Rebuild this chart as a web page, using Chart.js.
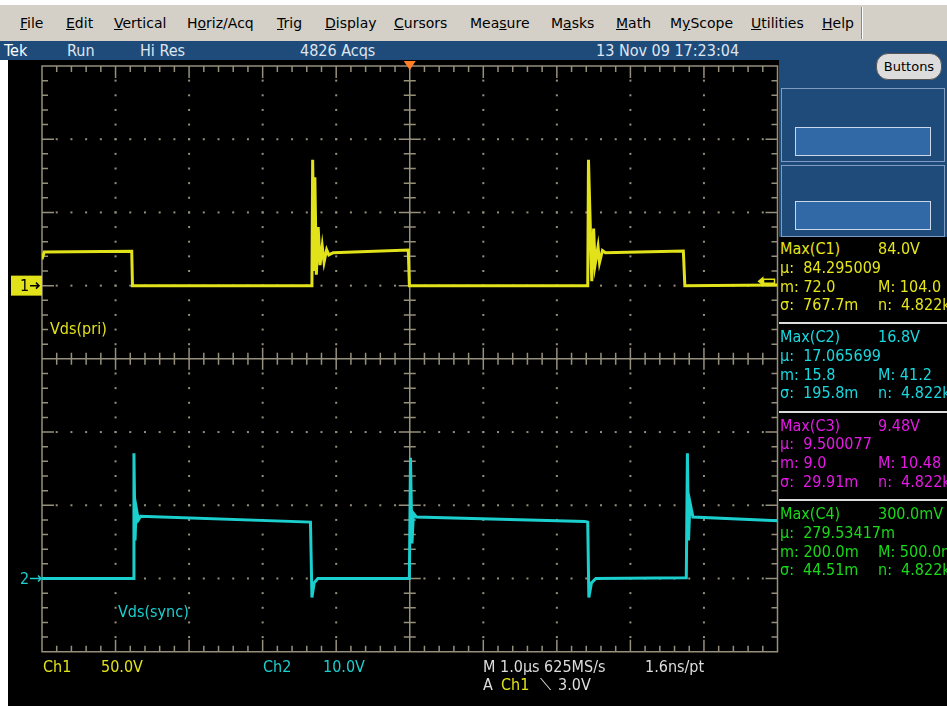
<!DOCTYPE html>
<html>
<head>
<meta charset="utf-8">
<script src="https://cdn.jsdelivr.net/npm/chart.js@4.4.0/dist/chart.umd.min.js"></script>
<style>
  html, body { margin: 0; padding: 0; width: 947px; height: 706px; overflow: hidden; background: #fff; }
  body { position: relative; font-family: "DejaVu Sans", sans-serif; }
  .abs { position: absolute; white-space: nowrap; }
  .scope { font-family: "Liberation Sans Narrow", "DejaVu Sans Condensed", "DejaVu Sans", sans-serif; font-stretch: condensed; font-size: 16px; line-height: 16px; }
  #menu { left: 0; top: 5px; width: 947px; height: 36px; background: #d4d0c8; }
  #menu span { position: absolute; top: 10px; font-size: 14px; color: #000; }
  #menu .sep { position: absolute; left: 861px; top: 2px; width: 1px; height: 32px; background: #888; border-right: 1px solid #fff; }
  #status { left: 0; top: 41px; width: 947px; height: 19px; background: #1f4b7a; color: #dfe6ef; }
  #status span { position: absolute; top: 2px; }
  #black { left: 8px; top: 60px; width: 939px; height: 646px; background: #000; }
  #panel { left: 779px; top: 60px; width: 168px; height: 177px; background: #1f4b7a; }
  #btn { left: 876px; top: 53px; width: 64px; height: 25px; border-radius: 12px; background: #dcdcdc; border: 1px solid #555; font-size: 13px; line-height: 25px; text-align: center; color: #000; }
  .box { left: 781px; width: 162px; border: 1px solid #7f9cc2; background: #1f4b7a; }
  .inner { left: 795px; width: 134px; background: #3169a6; border: 1px solid #c9d8ea; }
  .sepline { left: 779px; width: 168px; height: 2px; background: #dcdcdc; }
  #chartwrap { left: 8px; top: 60px; width: 772px; height: 646px; }
</style>
</head>
<body>
<div id="menu" class="abs">
  <span style="left:20px"><u>F</u>ile</span>
  <span style="left:66px"><u>E</u>dit</span>
  <span style="left:114px"><u>V</u>ertical</span>
  <span style="left:187px">H<u>o</u>riz/Acq</span>
  <span style="left:277px"><u>T</u>rig</span>
  <span style="left:325px"><u>D</u>isplay</span>
  <span style="left:394px"><u>C</u>ursors</span>
  <span style="left:470px">Mea<u>s</u>ure</span>
  <span style="left:551px">M<u>a</u>sks</span>
  <span style="left:616px"><u>M</u>ath</span>
  <span style="left:670px">M<u>y</u>Scope</span>
  <span style="left:751px"><u>U</u>tilities</span>
  <span style="left:822px"><u>H</u>elp</span>
  <div class="sep"></div>
</div>
<div id="status" class="abs scope">
  <span style="left:4px;color:#fff">Tek</span>
  <span style="left:67px">Run</span>
  <span style="left:140px">Hi Res</span>
  <span style="left:300px">4826 Acqs</span>
  <span style="left:596px">13 Nov 09 17:23:04</span>
</div>
<div id="black" class="abs"></div>
<div id="panel" class="abs"></div>
<div class="abs box" style="top:88px;height:72px"></div>
<div class="abs inner" style="top:127px;height:27px"></div>
<div class="abs box" style="top:165px;height:70px"></div>
<div class="abs inner" style="top:201px;height:27px"></div>
<div id="btn" class="abs">Buttons</div>
<div id="chartwrap" class="abs"><canvas id="scope" width="772" height="646"></canvas></div>
<div id="meas"></div>
<div id="readout"></div>
<script>
// time axis in µs (1 µs/div), volts per channel
const ch1Time  = [-5.00, -4.97, -3.78, -3.77, -1.33, -1.32, -1.30, -1.29, -1.27, -1.245, -1.22, -1.19, -1.165, -1.13, -1.10, -1.04, -0.02, -0.005, 2.42, 2.43, 2.475, 2.50, 2.52, 2.56, 2.58, 2.62, 2.66, 3.72, 3.74, 5.00];
const ch1Volts = [18, 23, 23.5, 0, 0, 86, 11, 74, 7.5, 40, 14, 27, 16, 24.5, 21, 22.5, 24.3, 0, 0, 86, 3, 39, 14.3, 26.6, 15.7, 24, 22.5, 23.7, 0, 0.5];
const ch2Time  = [-5.00, -3.76, -3.75, -3.735, -3.72, -3.69, -3.66, -1.35, -1.33, -1.30, -1.25, -0.005, 0.01, 0.03, 0.05, 0.09, 2.38, 2.42, 2.435, 2.47, 2.53, 3.76, 3.775, 3.79, 3.81, 3.85, 5.00];
const ch2Volts = [0, 0, 17.1, 5.2, 9.7, 8.0, 8.5, 7.7, -2.6, -0.6, 0, 0, 16.5, 4.8, 8.9, 8.4, 7.8, 7.7, -2.6, -0.6, 0, 0.1, 17.1, 5.2, 10.4, 8.4, 7.9];

// screen limits: 10 x 1 µs, 8 div at 50 V (ch1) and 10 V (ch2)
const timeRange = [-5, 5];
const ch1Range = [-250, 150];
const ch2Range = [-10, 70];
const trigLevel = 3.0;

const measNames  = ['Max(C1)', 'Max(C2)', 'Max(C3)', 'Max(C4)'];
const measValues = ['84.0V', '16.8V', '9.48V', '300.0mV'];
const measMeans  = ['84.295009', '17.065699', '9.500077', '279.53417m'];
const measMins   = ['72.0', '15.8', '9.0', '200.0m'];
const measMaxs   = ['104.0', '41.2', '10.48', '500.0m'];
const measSigmas = ['767.7m', '195.8m', '29.91m', '44.51m'];
const measCounts = ['4.822k', '4.822k', '4.822k', '4.822k'];
const measColors = ['#e6e619', '#19d9e0', '#e619e6', '#19d919'];

const YELLOW = '#e2e21a';
const CYAN = '#1ccfcf';
const GRID = '#958f7c';
const FONT = '16px "Liberation Sans Narrow", "DejaVu Sans Condensed", "DejaVu Sans", sans-serif';

// measurement panel
let html = '';
measNames.forEach(function(name, i) {
  const top = 241 + i * 88.4;
  const c = measColors[i];
  if (i > 0) html += '<div class="abs sepline" style="top:' + (top - 7) + 'px"></div>';
  html += '<div class="abs scope" style="left:780px;top:' + top + 'px;color:' + c + '">' + name + '</div>';
  html += '<div class="abs scope" style="left:878px;top:' + top + 'px;color:' + c + '">' + measValues[i] + '</div>';
  html += '<div class="abs scope" style="left:780px;top:' + (top + 18.5) + 'px;color:' + c + '">\u03bc:&nbsp; ' + measMeans[i] + '</div>';
  html += '<div class="abs scope" style="left:780px;top:' + (top + 37.5) + 'px;color:' + c + '">m: ' + measMins[i] + '</div>';
  html += '<div class="abs scope" style="left:878px;top:' + (top + 37.5) + 'px;color:' + c + '">M: ' + measMaxs[i] + '</div>';
  html += '<div class="abs scope" style="left:780px;top:' + (top + 56) + 'px;color:' + c + '">\u03c3:&nbsp; ' + measSigmas[i] + '</div>';
  html += '<div class="abs scope" style="left:878px;top:' + (top + 56) + 'px;color:' + c + '">n:&nbsp; ' + measCounts[i] + '</div>';
});
document.getElementById('meas').innerHTML = html;

document.getElementById('readout').innerHTML =
  '<div class="abs scope" style="left:43px;top:659px;color:' + YELLOW + '">Ch1</div>' +
  '<div class="abs scope" style="left:101px;top:659px;color:' + YELLOW + '">50.0V</div>' +
  '<div class="abs scope" style="left:263px;top:659px;color:' + CYAN + '">Ch2</div>' +
  '<div class="abs scope" style="left:323px;top:659px;color:' + CYAN + '">10.0V</div>' +
  '<div class="abs scope" style="left:483px;top:659px;color:#ddd">M 1.0\u00b5s 625MS/s</div>' +
  '<div class="abs scope" style="left:645px;top:659px;color:#ddd">1.6ns/pt</div>' +
  '<div class="abs scope" style="left:483px;top:677px;color:#ddd">A</div>' +
  '<div class="abs scope" style="left:501px;top:677px;color:' + YELLOW + '">Ch1</div>' +
  '<div class="abs scope" style="left:540px;top:677px;color:#ddd">\u27cd</div>' +
  '<div class="abs scope" style="left:558px;top:677px;color:#ddd">3.0V</div>';

const graticule = {
  id: 'graticule',
  beforeDatasetsDraw(chart) {
    const ctx = chart.ctx, a = chart.chartArea, x = chart.scales.x, y = chart.scales.y1;
    const xAt = i => x.getPixelForValue(x.min + i * (x.max - x.min) / 50);
    const yAt = j => y.getPixelForValue(y.min + j * (y.max - y.min) / 40);
    ctx.save();
    ctx.fillStyle = GRID;
    ctx.strokeStyle = GRID;
    ctx.lineWidth = 1.5;
    // dotted division lines
    for (let I = 1; I < 10; I++) {
      if (I === 5) continue;
      const px = xAt(I * 5);
      for (let j = 1; j < 40; j++) ctx.fillRect(px - 1, yAt(j) - 1, 2, 2);
    }
    for (let J = 1; J < 8; J++) {
      if (J === 4) continue;
      const py = yAt(J * 5);
      for (let i = 1; i < 50; i++) ctx.fillRect(xAt(i) - 1, py - 1, 2, 2);
    }
    ctx.beginPath();
    // center cross with ticks
    const cx = xAt(25), cy = yAt(20);
    ctx.moveTo(cx, a.top); ctx.lineTo(cx, a.bottom);
    ctx.moveTo(a.left, cy); ctx.lineTo(a.right, cy);
    for (let j = 1; j < 40; j++) {
      const l = j % 5 === 0 ? 11 : 6;
      ctx.moveTo(cx - l, yAt(j)); ctx.lineTo(cx + l, yAt(j));
    }
    for (let i = 1; i < 50; i++) {
      const l = i % 5 === 0 ? 11 : 6;
      ctx.moveTo(xAt(i), cy - l); ctx.lineTo(xAt(i), cy + l);
    }
    // border with inward ticks
    ctx.rect(a.left, a.top, a.right - a.left, a.bottom - a.top);
    for (let i = 1; i < 50; i++) {
      const l = i % 5 === 0 ? 12 : 6;
      ctx.moveTo(xAt(i), a.top); ctx.lineTo(xAt(i), a.top + l);
      ctx.moveTo(xAt(i), a.bottom); ctx.lineTo(xAt(i), a.bottom - l);
    }
    for (let j = 1; j < 40; j++) {
      const l = j % 5 === 0 ? 12 : 6;
      ctx.moveTo(a.left, yAt(j)); ctx.lineTo(a.left + l, yAt(j));
      ctx.moveTo(a.right, yAt(j)); ctx.lineTo(a.right - l, yAt(j));
    }
    ctx.stroke();
    ctx.restore();
  },
  afterDraw(chart) {
    const ctx = chart.ctx, a = chart.chartArea, x = chart.scales.x;
    const g1 = chart.scales.y1.getPixelForValue(0);
    const g2 = chart.scales.y2.getPixelForValue(0);
    const tl = chart.scales.y1.getPixelForValue(trigLevel);
    ctx.save();
    // ch1 ground marker
    ctx.fillStyle = YELLOW;
    ctx.fillRect(3, g1 - 10, a.left - 3, 20);
    ctx.fillStyle = '#000';
    ctx.font = FONT;
    ctx.textBaseline = 'middle';
    ctx.fillText('1', 12, g1 + 1);
    ctx.strokeStyle = '#000';
    ctx.lineWidth = 1.5;
    ctx.beginPath();
    ctx.moveTo(22, g1); ctx.lineTo(31, g1);
    ctx.moveTo(28, g1 - 3); ctx.lineTo(31, g1); ctx.lineTo(28, g1 + 3);
    ctx.stroke();
    // ch2 ground marker
    ctx.fillStyle = CYAN;
    ctx.strokeStyle = CYAN;
    ctx.fillText('2', 12, g2 + 1);
    ctx.beginPath();
    ctx.moveTo(22, g2); ctx.lineTo(33, g2);
    ctx.moveTo(30, g2 - 3); ctx.lineTo(33, g2); ctx.lineTo(30, g2 + 3);
    ctx.stroke();
    // trigger level arrow on right edge
    ctx.fillStyle = YELLOW;
    ctx.strokeStyle = YELLOW;
    ctx.beginPath();
    ctx.moveTo(a.right - 20, tl); ctx.lineTo(a.right - 14, tl - 5); ctx.lineTo(a.right - 14, tl + 5); ctx.closePath();
    ctx.fill();
    ctx.strokeRect(a.right - 14, tl - 2, 11, 4);
    // trigger position
    const tx = x.getPixelForValue(0);
    ctx.fillStyle = '#ff7f27';
    ctx.beginPath();
    ctx.moveTo(tx - 6, a.top - 5); ctx.lineTo(tx + 6, a.top - 5); ctx.lineTo(tx, a.top + 4); ctx.closePath();
    ctx.fill();
    // trace labels
    ctx.textBaseline = 'alphabetic';
    ctx.fillStyle = YELLOW;
    ctx.fillText('Vds(pri)', a.left + 8, chart.scales.y1.getPixelForValue(-33));
    ctx.fillStyle = CYAN;
    ctx.fillText('Vds(sync)', a.left + 76, chart.scales.y2.getPixelForValue(-5.3));
    ctx.restore();
  }
};

const toPoints = (ts, vs) => ts.map((t, i) => ({ x: t, y: vs[i] }));

new Chart(document.getElementById('scope'), {
  type: 'line',
  data: {
    datasets: [
      { label: 'Ch2', data: toPoints(ch2Time, ch2Volts), yAxisID: 'y2', borderColor: CYAN, borderWidth: 3, pointRadius: 0, tension: 0 },
      { label: 'Ch1', data: toPoints(ch1Time, ch1Volts), yAxisID: 'y1', borderColor: YELLOW, borderWidth: 3, pointRadius: 0, tension: 0 }
    ]
  },
  options: {
    responsive: false,
    animation: false,
    layout: { padding: { left: 34, right: 2.5, top: 6, bottom: 54.3 } },
    plugins: { legend: { display: false }, tooltip: { enabled: false } },
    scales: {
      x: { type: 'linear', min: timeRange[0], max: timeRange[1], display: false },
      y1: { type: 'linear', min: ch1Range[0], max: ch1Range[1], display: false },
      y2: { type: 'linear', min: ch2Range[0], max: ch2Range[1], display: false }
    }
  },
  plugins: [graticule]
});
</script>
</body>
</html>
